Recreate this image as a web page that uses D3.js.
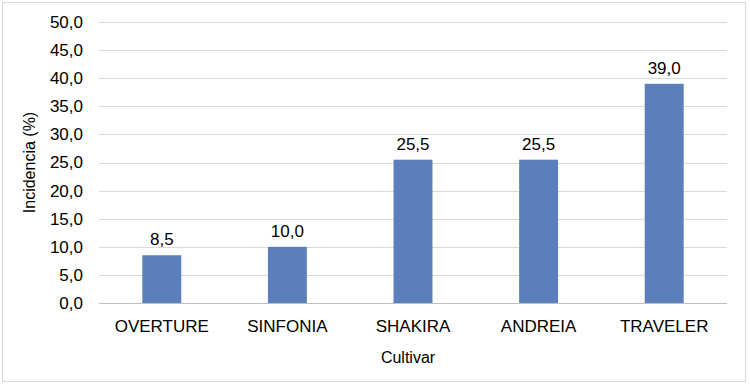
<!DOCTYPE html>
<html>
<head>
<meta charset="utf-8">
<script src="https://cdn.jsdelivr.net/npm/d3@7"></script>
<style>
  body { margin: 0; background: #fff; }
  text { font-family: "Liberation Sans", Arial, sans-serif; fill: #000; }
</style>
</head>
<body>
<div class="canvas"></div>
<script>
const cultivars = ['OVERTURE', 'SINFONIA', 'SHAKIRA', 'ANDREIA', 'TRAVELER'];
const incidencia = [8.5, 10.0, 25.5, 25.5, 39.0];
const yTicks = [0, 5, 10, 15, 20, 25, 30, 35, 40, 45, 50];

const dims = {width: 750, height: 385};
const plot = {left: 99, right: 727, top: 22, bottom: 303};

const fmt = v => d3.format('.1f')(v).replace('.', ',');

const svg = d3.select('.canvas').append('svg')
    .attr('width', dims.width)
    .attr('height', dims.height);

// chart border
svg.append('rect')
    .attr('x', 2.5).attr('y', 2.5)
    .attr('width', 743).attr('height', 379)
    .attr('fill', '#fff')
    .attr('stroke', '#d9d9d9');

const x = d3.scaleBand()
    .domain(cultivars)
    .range([plot.left, plot.right]);

const y = d3.scaleLinear()
    .domain([0, 50])
    .range([plot.bottom, plot.top]);

const barW = x.bandwidth() * 0.31;

// gridlines
svg.append('g').selectAll('line')
    .data(yTicks.filter(d => d > 0))
    .enter().append('line')
        .attr('x1', plot.left).attr('x2', plot.right)
        .attr('y1', d => Math.round(y(d)) + 0.5)
        .attr('y2', d => Math.round(y(d)) + 0.5)
        .attr('stroke', '#d9d9d9');

// y tick labels
svg.append('g').selectAll('text')
    .data(yTicks)
    .enter().append('text')
        .attr('x', 83)
        .attr('y', d => y(d))
        .attr('dy', '0.35em')
        .attr('text-anchor', 'end')
        .style('font-size', '17px')
        .text(d => fmt(d));

// bars
svg.append('g').selectAll('rect')
    .data(incidencia)
    .enter().append('rect')
        .attr('x', (d, i) => x(cultivars[i]) + x.bandwidth() / 2 - barW / 2)
        .attr('y', d => y(d))
        .attr('width', barW)
        .attr('height', d => y(0) - y(d))
        .attr('fill', '#5b7fba');

// value labels
svg.append('g').selectAll('text')
    .data(incidencia)
    .enter().append('text')
        .attr('x', (d, i) => x(cultivars[i]) + x.bandwidth() / 2)
        .attr('y', d => y(d) - 10)
        .attr('text-anchor', 'middle')
        .style('font-size', '17px')
        .text(d => fmt(d));

// x axis line
svg.append('line')
    .attr('x1', plot.left).attr('x2', plot.right)
    .attr('y1', plot.bottom + 0.5).attr('y2', plot.bottom + 0.5)
    .attr('stroke', '#bfbfbf');

// category labels
svg.append('g').selectAll('text')
    .data(cultivars)
    .enter().append('text')
        .attr('x', d => x(d) + x.bandwidth() / 2)
        .attr('y', 332)
        .attr('text-anchor', 'middle')
        .style('font-size', '17px')
        .text(d => d);

// axis titles
svg.append('text')
    .attr('x', (plot.left + plot.right) / 2 - 5)
    .attr('y', 363)
    .attr('text-anchor', 'middle')
    .style('font-size', '16px')
    .text('Cultivar');

svg.append('text')
    .attr('transform', `translate(35, ${(plot.top + plot.bottom) / 2}) rotate(-90)`)
    .attr('text-anchor', 'middle')
    .style('font-size', '16px')
    .text('Incidencia (%)');
</script>
</body>
</html>
